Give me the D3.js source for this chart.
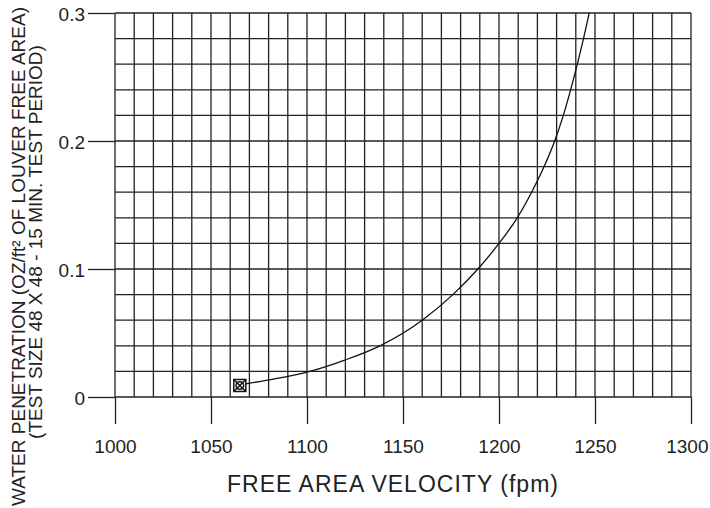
<!DOCTYPE html>
<html>
<head>
<meta charset="utf-8">
<script src="https://cdn.jsdelivr.net/npm/d3@7"></script>
<style>
  body { margin: 0; background: #fff; }
  svg text { font-family: "Liberation Sans", Arial, sans-serif; fill: #222; }
</style>
</head>
<body>
<div id="chart"></div>
<script>
// CONSTANTS
const WIDTH = 710;
const HEIGHT = 508;

// DATA
const velocity = [1065, 1080, 1101.5, 1120, 1138, 1160, 1176, 1189, 1200, 1209.5, 1217, 1223.5, 1229, 1233.5, 1237.3, 1240.8, 1244, 1247];
const penetration = [0.0095, 0.0133, 0.02, 0.029, 0.04, 0.06, 0.08, 0.10, 0.12, 0.14, 0.16, 0.18, 0.20, 0.22, 0.24, 0.26, 0.28, 0.30];
const testPoint = [1065, 0.009];
const xTicks = [1000, 1050, 1100, 1150, 1200, 1250, 1300];
const yTicks = [0, 0.1, 0.2, 0.3];
const xGrid = d3.range(1000, 1301, 10);
const yGrid = d3.range(0, 16).map(i => +(i * 0.02).toFixed(2));

const x = d3.scaleLinear().domain([1000, 1300]).range([115, 691]);
const y = d3.scaleLinear().domain([0, 0.3]).range([397, 13]);

const svg = d3.select("#chart")
  .append("svg")
  .attr("width", WIDTH)
  .attr("height", HEIGHT);

// grid
const grid = svg.append("g").attr("stroke", "#222").attr("stroke-width", 1.3);
grid.selectAll("line.v")
  .data(xGrid)
  .enter()
  .append("line")
  .attr("x1", d => x(d)).attr("x2", d => x(d))
  .attr("y1", y(0)).attr("y2", y(0.3));
grid.selectAll("line.h")
  .data(yGrid)
  .enter()
  .append("line")
  .attr("x1", x(1000)).attr("x2", x(1300))
  .attr("y1", d => y(d)).attr("y2", d => y(d));

// axes
const xAxis = svg.append("g")
  .attr("transform", `translate(0,${y(0)})`)
  .call(d3.axisBottom(x).tickValues(xTicks).tickSize(27).tickPadding(16).tickFormat(d3.format("d")));
const yAxis = svg.append("g")
  .attr("transform", `translate(${x(1000)},0)`)
  .call(d3.axisLeft(y).tickValues(yTicks).tickSize(27).tickPadding(3).tickFormat(d => d === 0 ? "0" : d3.format(".1f")(d)));

[xAxis, yAxis].forEach(a => {
  a.select(".domain").remove();
  a.selectAll(".tick line").attr("stroke", "#222").attr("stroke-width", 1.3);
  a.selectAll(".tick text").attr("font-size", 19).attr("fill", "#222");
});
yAxis.selectAll(".tick text").attr("dy", "0.42em");
// last label sits flush with the right edge like the original
xAxis.selectAll(".tick text").filter(d => d === 1300).attr("text-anchor", "end").attr("x", 17);

// curve
const line = d3.line()
  .x((d, i) => x(velocity[i]))
  .y(d => y(d))
  .curve(d3.curveMonotoneX);
svg.append("path")
  .attr("d", line(penetration))
  .attr("fill", "none")
  .attr("stroke", "#111")
  .attr("stroke-width", 1.3);

// test point marker
const mx = x(testPoint[0]), my = y(testPoint[1]);
const mk = svg.append("g").attr("stroke", "#111").attr("fill", "none").attr("stroke-width", 1.5);
mk.append("rect").attr("x", mx - 6).attr("y", my - 6).attr("width", 12).attr("height", 12).attr("fill", "#fff");
mk.append("circle").attr("cx", mx).attr("cy", my).attr("r", 3.8);
mk.append("line").attr("x1", mx - 6).attr("y1", my - 6).attr("x2", mx + 6).attr("y2", my + 6);
mk.append("line").attr("x1", mx + 6).attr("y1", my - 6).attr("x2", mx - 6).attr("y2", my + 6);

// titles
svg.append("text")
  .attr("x", 392.5).attr("y", 492)
  .attr("text-anchor", "middle")
  .attr("font-size", 23)
  .attr("textLength", 331)
  .attr("lengthAdjust", "spacing")
  .text("FREE AREA VELOCITY (fpm)");

svg.append("text")
  .attr("transform", "translate(25,256.5) rotate(-90)")
  .attr("text-anchor", "middle")
  .attr("font-size", 19)
  .text("WATER PENETRATION (OZ/ft² OF LOUVER FREE AREA)");
svg.append("text")
  .attr("transform", "translate(42,242) rotate(-90)")
  .attr("text-anchor", "middle")
  .attr("font-size", 19)
  .text("(TEST SIZE 48 X 48 - 15 MIN. TEST PERIOD)");
</script>
</body>
</html>
